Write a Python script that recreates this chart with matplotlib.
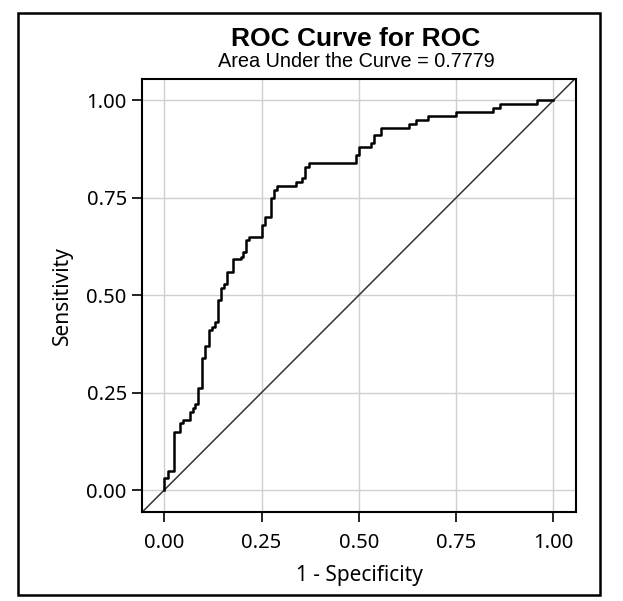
import matplotlib
matplotlib.use("Agg")
import matplotlib.pyplot as plt
from matplotlib.patches import Rectangle

# ROC points (1 - specificity, sensitivity)
fpr = [0.0, 0.0, 0.0085, 0.024, 0.041, 0.048, 0.067, 0.074, 0.080, 0.088,
       0.096, 0.104, 0.114, 0.122, 0.130, 0.137, 0.145, 0.154, 0.161, 0.178,
       0.197, 0.203, 0.209, 0.218, 0.250, 0.258, 0.274, 0.282, 0.291, 0.339,
       0.355, 0.362, 0.372, 0.493, 0.500, 0.532, 0.539, 0.556, 0.629, 0.646,
       0.678, 0.750, 0.846, 0.862, 0.959, 1.0]
tpr = [0.0, 0.030, 0.050, 0.150, 0.171, 0.180, 0.199, 0.210, 0.220, 0.261,
       0.340, 0.370, 0.410, 0.419, 0.430, 0.489, 0.519, 0.530, 0.560, 0.592,
       0.599, 0.610, 0.642, 0.650, 0.680, 0.700, 0.750, 0.770, 0.780, 0.790,
       0.800, 0.830, 0.840, 0.860, 0.880, 0.890, 0.910, 0.930, 0.940, 0.950,
       0.960, 0.970, 0.980, 0.990, 1.0, 1.0]
ticks = [0.0, 0.25, 0.5, 0.75, 1.0]
auc = 0.7779

sans = ["Noto Sans", "DejaVu Sans"]
arial = ["Liberation Sans", "DejaVu Sans"]

fig = plt.figure(figsize=(6.23, 6.01), dpi=100)
ax = fig.add_axes([0.228, 0.148, 0.6965, 0.7206])

# outer frame around the whole graph
fig.patches.append(Rectangle((0.029, 0.010), 0.934, 0.968, transform=fig.transFigure,
                             fill=False, edgecolor="black", lw=1.8))

ax.grid(True, color="#d0d0d0", lw=1.0)
ax.set_axisbelow(True)
ax.axline((0, 0), (1, 1), color="#333333", lw=1.1)
ax.plot(fpr, tpr, drawstyle="steps-post", color="black", lw=1.8)

ax.set_xlim(-0.057, 1.058)
ax.set_ylim(-0.0565, 1.055)
ax.set_xticks(ticks)
ax.set_yticks(ticks)
ax.set_xticklabels([f"{t:.2f}" for t in ticks], family=sans, fontsize=14.5)
ax.set_yticklabels([f"{t:.2f}" for t in ticks], family=sans, fontsize=14.5)
ax.tick_params(axis="x", length=7, width=1.2, pad=8, direction="out")
ax.tick_params(axis="y", length=7, width=1.2, pad=4, direction="out")
ax.tick_params(top=False, right=False)
for s in ax.spines.values():
    s.set_linewidth(1.5)

ax.set_xlabel("1 - Specificity", family=sans, fontsize=15, labelpad=9)
ax.set_ylabel("Sensitivity", family=sans, fontsize=15, labelpad=10)

fig.text(0.5715, 0.935, "ROC Curve for ROC", ha="center", va="center",
         family=arial, fontsize=19, fontweight="bold")
fig.text(0.5715, 0.897, f"Area Under the Curve = {auc}", ha="center", va="center",
         family=arial, fontsize=14.3)

fig.savefig("out.png", dpi=100)
